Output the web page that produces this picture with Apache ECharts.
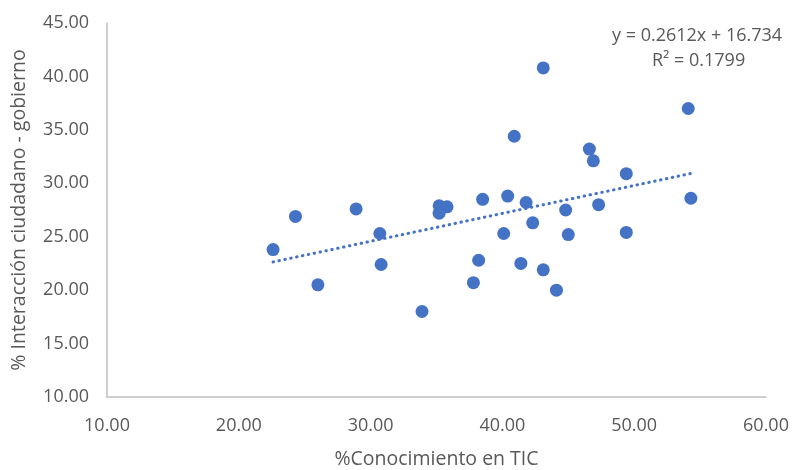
<!DOCTYPE html>
<html style="height: 100%">
<head>
    <meta charset="utf-8">
    <title>Conocimiento TIC vs Interacción</title>
    <script type="text/javascript" src="https://cdn.jsdelivr.net/npm/echarts@6/dist/echarts.min.js"></script>
</head>
<body style="width: 100%;margin: 0;height: 100%;background: #fff">
<div id="container" style="width: 792px;height: 470px"></div>

<script type="application/javascript">
    // % conocimiento en TIC (x) y % interaccion ciudadano-gobierno (y)
    var conocimiento = [22.6, 24.3, 26.0, 28.9, 30.7, 30.8, 33.9, 35.2, 35.8, 35.2,
        38.5, 40.4, 41.8, 40.9, 43.1, 46.6, 46.9, 49.4, 54.1, 54.3,
        44.8, 47.3, 42.3, 40.1, 45.0, 49.4, 38.2, 41.4, 43.1, 37.8, 44.1];
    var interaccion = [23.8, 26.9, 20.5, 27.6, 25.3, 22.4, 18.0, 27.9, 27.8, 27.2,
        28.5, 28.8, 28.2, 34.4, 40.8, 33.2, 32.1, 30.9, 37.0, 28.6,
        27.5, 28.0, 26.3, 25.3, 25.2, 25.4, 22.8, 22.5, 21.9, 20.7, 20.0];

    // linea de tendencia indicada en el grafico
    var pendiente = 0.2612;
    var intercepto = 16.734;
    var ecuacion = 'y = 0.2612x + 16.734';
    var r2 = 'R² = 0.1799';

    var puntos = [];
    for (var i = 0; i < conocimiento.length; i++) {
        puntos.push([conocimiento[i], interaccion[i]]);
    }
    var xMin = Math.min.apply(null, conocimiento);
    var xMax = Math.max.apply(null, conocimiento);
    var tendencia = [
        [xMin, pendiente * xMin + intercepto],
        [xMax, pendiente * xMax + intercepto]
    ];

    var fuente = '"Open Sans", sans-serif';
    var gris = '#595959';

    var myChart = echarts.init(document.getElementById('container'), null, {renderer: 'canvas'});

    var option = {
        animation: false,
        backgroundColor: '#fff',
        grid: {left: 107, right: 26, top: 23, bottom: 73, containLabel: false, outerBoundsMode: 'none'},
        xAxis: {
            type: 'value',
            min: 10, max: 60, interval: 10,
            name: '%Conocimiento en TIC',
            nameLocation: 'middle',
            nameGap: 52,
            nameTextStyle: {color: gris, fontSize: 19.5, fontFamily: fuente},
            axisLine: {show: true, lineStyle: {color: '#bfbfbf', width: 1.5}},
            axisTick: {show: false},
            splitLine: {show: false},
            axisLabel: {
                color: gris, fontSize: 18, fontFamily: fuente, margin: 20,
                formatter: function (v) { return v.toFixed(2); }
            }
        },
        yAxis: {
            type: 'value',
            min: 10, max: 45, interval: 5,
            name: '% Interacción ciudadano - gobierno',
            nameLocation: 'middle',
            nameGap: 78,
            nameTextStyle: {color: gris, fontSize: 19.5, fontFamily: fuente},
            axisLine: {show: true, lineStyle: {color: '#bfbfbf', width: 1.5}},
            axisTick: {show: false},
            splitLine: {show: false},
            axisLabel: {
                color: gris, fontSize: 18, fontFamily: fuente, margin: 18,
                formatter: function (v) { return v.toFixed(2); }
            }
        },
        graphic: [
            {
                type: 'text', left: 612, top: 27,
                style: {text: ecuacion, fill: gris, font: '18px ' + fuente}
            },
            {
                type: 'text', left: 652, top: 52,
                style: {text: r2, fill: gris, font: '18px ' + fuente}
            }
        ],
        series: [
            {
                type: 'line',
                data: tendencia,
                symbol: 'none',
                silent: true,
                lineStyle: {color: '#4472C4', width: 3, type: [0.5, 5.5], cap: 'round'},
                z: 1
            },
            {
                type: 'scatter',
                data: puntos,
                symbolSize: 13,
                itemStyle: {color: '#4472C4', opacity: 1},
                z: 2
            }
        ]
    };

    myChart.setOption(option);
</script>
</body>
</html>
